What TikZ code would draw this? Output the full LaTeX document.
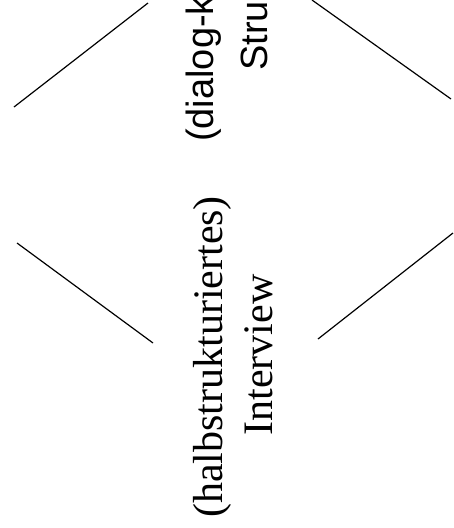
\documentclass[tikz,border=0pt]{standalone}
\usepackage{fontspec}
\setmainfont{Liberation Serif}
\newfontfamily\sansf{Liberation Sans}
\begin{document}
\begin{tikzpicture}[x=1pt,y=-1pt,
  edge/.style={line width=1.2pt, black},
  serifline/.style={font=\fontsize{42}{50}\selectfont, rotate=90, anchor=base, inner sep=0pt},
  sansline/.style={font=\sansf\fontsize{38}{54}\selectfont, rotate=90, anchor=base west, inner sep=0pt}]
\useasboundingbox (0,0) rectangle (454,528);
\clip (0,0) rectangle (454,528);
% lines
\coordinate (tl1) at (14,107);  \coordinate (tl2) at (148,3);
\coordinate (tr1) at (312,0);   \coordinate (tr2) at (451,99);
\coordinate (bl1) at (17,243);  \coordinate (bl2) at (153,343);
\coordinate (br1) at (318,339); \coordinate (br2) at (453,233);
\draw[edge] (tl1) -- (tl2);
\draw[edge] (tr1) -- (tr2);
\draw[edge] (bl1) -- (bl2);
\draw[edge] (br1) -- (br2);
% texts
\node[sansline] (d1) at (213,142) {(dialog-k};
\node[sansline] (d2) at (267,71) {Stru};
\node[serifline] (h1) at (222,357) {(halbstrukturiertes)};
\node[serifline] (h2) at (272,355) {Interview};
\end{tikzpicture}
\end{document}
